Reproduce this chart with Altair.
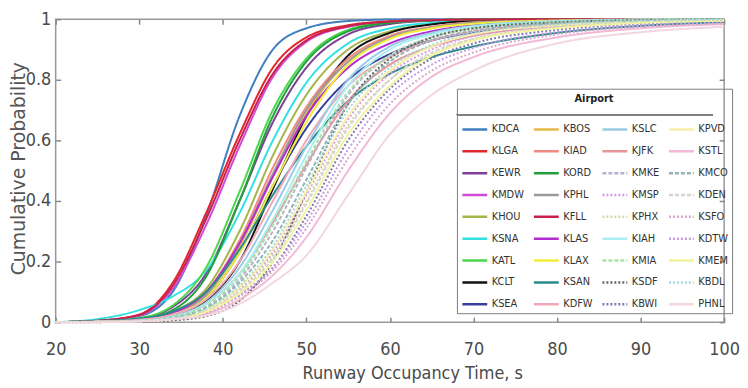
import altair as alt
import pandas as pd

# Runway occupancy time grid (s)
ROT = [20, 25, 30, 34, 38, 42, 46, 50, 55, 60, 65, 70, 80, 90, 100]

# Cumulative probability, one list per airport
KDCA = [0, 0.004, 0.02, 0.1, 0.35, 0.68, 0.9, 0.97, 0.994, 0.999, 1, 1, 1, 1, 1]
KLGA = [0, 0.005, 0.025, 0.13, 0.36, 0.62, 0.84, 0.94, 0.98, 0.993, 0.997, 0.999, 1, 1, 1]
KEWR = [0, 0.003, 0.012, 0.05, 0.16, 0.4, 0.66, 0.84, 0.95, 0.984, 0.995, 0.998, 1, 1, 1]
KMDW = [0, 0.004, 0.022, 0.11, 0.32, 0.58, 0.81, 0.925, 0.975, 0.99, 0.996, 0.999, 1, 1, 1]
KHOU = [0, 0.003, 0.01, 0.035, 0.11, 0.3, 0.55, 0.75, 0.9, 0.96, 0.984, 0.994, 0.999, 1, 1]
KSNA = [0, 0.01, 0.04, 0.085, 0.17, 0.36, 0.6, 0.79, 0.92, 0.97, 0.988, 0.995, 0.999, 1, 1]
KATL = [0, 0.003, 0.014, 0.055, 0.18, 0.43, 0.7, 0.87, 0.965, 0.99, 0.997, 0.999, 1, 1, 1]
KCLT = [0, 0.002, 0.006, 0.02, 0.07, 0.2, 0.44, 0.68, 0.88, 0.955, 0.983, 0.994, 0.999, 1, 1]
KSEA = [0, 0.002, 0.007, 0.022, 0.08, 0.23, 0.45, 0.64, 0.8, 0.885, 0.93, 0.957, 0.983, 0.994, 0.999]

KBOS = [0, 0.003, 0.009, 0.03, 0.09, 0.25, 0.48, 0.69, 0.86, 0.94, 0.972, 0.987, 0.997, 1, 1]
KIAD = [0, 0.002, 0.008, 0.03, 0.1, 0.27, 0.51, 0.71, 0.87, 0.945, 0.975, 0.99, 0.998, 1, 1]
KORD = [0, 0.002, 0.01, 0.04, 0.15, 0.4, 0.68, 0.86, 0.96, 0.988, 0.996, 0.999, 1, 1, 1]
KPHL = [0, 0.002, 0.007, 0.025, 0.09, 0.26, 0.49, 0.7, 0.86, 0.94, 0.972, 0.988, 0.997, 1, 1]
KFLL = [0, 0.005, 0.024, 0.12, 0.34, 0.6, 0.82, 0.93, 0.977, 0.992, 0.997, 0.999, 1, 1, 1]
KLAS = [0, 0.002, 0.008, 0.03, 0.1, 0.26, 0.48, 0.68, 0.84, 0.92, 0.96, 0.98, 0.995, 0.999, 1]
KLAX = [0, 0.002, 0.007, 0.025, 0.08, 0.23, 0.45, 0.66, 0.85, 0.935, 0.97, 0.985, 0.996, 0.999, 1]
KSAN = [0, 0.004, 0.012, 0.035, 0.1, 0.24, 0.42, 0.58, 0.73, 0.82, 0.875, 0.91, 0.955, 0.978, 0.99]
KDFW = [0, 0.002, 0.008, 0.025, 0.075, 0.2, 0.4, 0.6, 0.78, 0.875, 0.93, 0.96, 0.985, 0.995, 0.999]

KSLC = [0, 0.001, 0.005, 0.02, 0.065, 0.18, 0.37, 0.58, 0.8, 0.91, 0.955, 0.978, 0.994, 0.999, 1]
KJFK = [0, 0.001, 0.005, 0.018, 0.06, 0.16, 0.33, 0.52, 0.73, 0.85, 0.91, 0.945, 0.977, 0.99, 0.997]
KMKE = [0, 0.001, 0.004, 0.015, 0.05, 0.14, 0.3, 0.51, 0.75, 0.88, 0.94, 0.97, 0.99, 0.997, 1]
KMSP = [0, 0.001, 0.003, 0.012, 0.04, 0.11, 0.23, 0.42, 0.67, 0.82, 0.9, 0.945, 0.978, 0.992, 0.997]
KPHX = [0, 0.001, 0.003, 0.011, 0.038, 0.105, 0.22, 0.4, 0.65, 0.8, 0.885, 0.935, 0.972, 0.99, 0.996]
KIAH = [0, 0.001, 0.005, 0.018, 0.06, 0.16, 0.34, 0.55, 0.78, 0.9, 0.95, 0.975, 0.992, 0.998, 1]
KMIA = [0, 0.001, 0.004, 0.016, 0.055, 0.15, 0.32, 0.53, 0.76, 0.88, 0.94, 0.97, 0.99, 0.997, 1]
KSDF = [0, 0, 0.002, 0.006, 0.02, 0.07, 0.2, 0.43, 0.72, 0.87, 0.94, 0.97, 0.99, 0.997, 1]
KBWI = [0, 0.001, 0.003, 0.01, 0.033, 0.09, 0.18, 0.35, 0.6, 0.77, 0.87, 0.92, 0.965, 0.985, 0.994]

KPVD = [0, 0.001, 0.004, 0.013, 0.042, 0.115, 0.24, 0.43, 0.68, 0.83, 0.91, 0.95, 0.98, 0.993, 0.998]
KSTL = [0, 0.001, 0.003, 0.01, 0.027, 0.075, 0.155, 0.28, 0.5, 0.69, 0.81, 0.875, 0.94, 0.97, 0.984]
KMCO = [0, 0.001, 0.004, 0.014, 0.047, 0.13, 0.27, 0.47, 0.72, 0.86, 0.93, 0.962, 0.987, 0.996, 1]
KDEN = [0, 0.001, 0.003, 0.011, 0.036, 0.1, 0.21, 0.39, 0.64, 0.8, 0.89, 0.935, 0.972, 0.989, 0.996]
KSFO = [0, 0.001, 0.003, 0.01, 0.03, 0.085, 0.17, 0.31, 0.54, 0.72, 0.83, 0.89, 0.95, 0.975, 0.986]
KDTW = [0, 0.001, 0.003, 0.01, 0.032, 0.09, 0.18, 0.33, 0.57, 0.75, 0.85, 0.905, 0.958, 0.98, 0.99]
KMEM = [0, 0.001, 0.003, 0.01, 0.034, 0.095, 0.2, 0.37, 0.62, 0.78, 0.88, 0.93, 0.97, 0.988, 0.995]
KBDL = [0, 0.001, 0.004, 0.013, 0.044, 0.12, 0.25, 0.45, 0.7, 0.84, 0.915, 0.955, 0.982, 0.994, 0.998]
PHNL = [0, 0, 0.003, 0.01, 0.022, 0.06, 0.13, 0.22, 0.42, 0.62, 0.75, 0.83, 0.92, 0.957, 0.975]

# Legend columns (as shown in the reference legend)
COL1 = ["KDCA", "KLGA", "KEWR", "KMDW", "KHOU", "KSNA", "KATL", "KCLT", "KSEA"]
COL2 = ["KBOS", "KIAD", "KORD", "KPHL", "KFLL", "KLAS", "KLAX", "KSAN", "KDFW"]
COL3 = ["KSLC", "KJFK", "KMKE", "KMSP", "KPHX", "KIAH", "KMIA", "KSDF", "KBWI"]
COL4 = ["KPVD", "KSTL", "KMCO", "KDEN", "KSFO", "KDTW", "KMEM", "KBDL", "PHNL"]

COLORS = {
    "KDCA": "#3f7fbf", "KLGA": "#e3262b", "KEWR": "#7e3f98", "KMDW": "#d24bd8",
    "KHOU": "#a5b54a", "KSNA": "#33e0e0", "KATL": "#4cd64c", "KCLT": "#111111",
    "KSEA": "#3a3f9e",
    "KBOS": "#e5b84a", "KIAD": "#f08a80", "KORD": "#1fa03a", "KPHL": "#9a9a9a",
    "KFLL": "#c8204d", "KLAS": "#b52bd0", "KLAX": "#f2ec3a", "KSAN": "#2a8a8a",
    "KDFW": "#f3a8b8",
    "KSLC": "#9ccbe5", "KJFK": "#e8959a", "KMKE": "#b5b3cc", "KMSP": "#d99ae6",
    "KPHX": "#d6d6a8", "KIAH": "#a8eef2", "KMIA": "#a8e2a8", "KSDF": "#666666",
    "KBWI": "#7c7ab0",
    "KPVD": "#f7f0a8", "KSTL": "#f2b8d6", "KMCO": "#93b4b4", "KDEN": "#d4d4d4",
    "KSFO": "#d8a8c8", "KDTW": "#c89ae8", "KMEM": "#f2f2a0", "KBDL": "#a8d8d8",
    "PHNL": "#f2d6e2",
}
SOLID = [1, 0]
DOT = [2, 2]
DASH = [4, 2]
DASHES = {a: SOLID for a in COL1 + COL2}
DASHES.update({
    "KSLC": SOLID, "KJFK": SOLID, "KMKE": DASH, "KMSP": DOT, "KPHX": DOT,
    "KIAH": SOLID, "KMIA": DASH, "KSDF": DOT, "KBWI": DOT,
    "KPVD": SOLID, "KSTL": SOLID, "KMCO": DASH, "KDEN": DASH, "KSFO": DOT,
    "KDTW": DOT, "KMEM": SOLID, "KBDL": DOT, "PHNL": SOLID,
})

SERIES = {
    "KDCA": KDCA, "KLGA": KLGA, "KEWR": KEWR, "KMDW": KMDW, "KHOU": KHOU,
    "KSNA": KSNA, "KATL": KATL, "KCLT": KCLT, "KSEA": KSEA,
    "KBOS": KBOS, "KIAD": KIAD, "KORD": KORD, "KPHL": KPHL, "KFLL": KFLL,
    "KLAS": KLAS, "KLAX": KLAX, "KSAN": KSAN, "KDFW": KDFW,
    "KSLC": KSLC, "KJFK": KJFK, "KMKE": KMKE, "KMSP": KMSP, "KPHX": KPHX,
    "KIAH": KIAH, "KMIA": KMIA, "KSDF": KSDF, "KBWI": KBWI,
    "KPVD": KPVD, "KSTL": KSTL, "KMCO": KMCO, "KDEN": KDEN, "KSFO": KSFO,
    "KDTW": KDTW, "KMEM": KMEM, "KBDL": KBDL, "PHNL": PHNL,
}

# the legend fills column by column
DOMAIN = COL1 + COL2 + COL3 + COL4

rows = []
for name, vals in SERIES.items():
    for x, y in zip(ROT, vals):
        rows.append({"airport": name, "rot": x, "cdf": y})
df = pd.DataFrame(rows)

NARROW = "Liberation Sans Narrow, DejaVu Sans Condensed, Arial Narrow, sans-serif"
XTICKS = [20, 30, 40, 50, 60, 70, 80, 90, 100]
YTICKS = [0, 0.2, 0.4, 0.6, 0.8, 1]

xscale = alt.Scale(domain=[20, 100], nice=False, zero=False)
yscale = alt.Scale(domain=[0, 1], nice=False)

# legend box (plot-area pixels)
LEG_X, LEG_Y, LEG_X2, LEG_Y2 = 404, 70, 661, 293

legend = alt.Legend(
    orient="none", legendX=LEG_X, legendY=LEG_Y, columns=4, direction="vertical",
    title="Airport", symbolLimit=50,
    symbolType="stroke", symbolSize=625, symbolStrokeWidth=2.5,
    labelFont=NARROW, labelFontSize=11, labelColor="#333333", labelOffset=3,
    titleFont=NARROW, titleFontSize=11, titleFontWeight="bold", titleColor="#222222",
    titleAnchor="middle", titleAlign="center", titlePadding=12,
    strokeColor="#808080", padding=4,
    rowPadding=3, columnPadding=4,
)

lines = alt.Chart(df).mark_line(strokeWidth=2, interpolate="monotone").encode(
    x=alt.X("rot:Q", scale=xscale, axis=alt.Axis(
        values=XTICKS, title="Runway Occupancy Time, s", orient="bottom",
        offset=-5, tickSize=5, tickColor="#888888", tickWidth=1.5, domain=False,
        grid=False, labelFlush=False, labelFont=NARROW, labelFontSize=18,
        labelColor="#4a4a4a", labelPadding=19, titleFont=NARROW, titleFontSize=18,
        titleFontWeight="normal", titleColor="#4a4a4a", titleX=359, titleY=57,
        titleBaseline="middle", titleAlign="center")),
    y=alt.Y("cdf:Q", scale=yscale, axis=alt.Axis(
        values=YTICKS, title="Cumulative Probability", orient="left",
        labelExpr="format(datum.value, '~g')",
        offset=-5, tickSize=5, tickColor="#888888", tickWidth=1.5, domain=False,
        grid=False, labelFlush=False, labelFont=NARROW, labelFontSize=18,
        labelColor="#4a4a4a", labelPadding=5, titleFont="DejaVu Sans", titleFontSize=19,
        titleFontWeight="normal", titleColor="#555555", titleX=-42, titleY=150,
        titleBaseline="middle", titleAlign="center")),
    color=alt.Color("airport:N", scale=alt.Scale(domain=DOMAIN, range=[COLORS[a] for a in DOMAIN]),
                    legend=legend, title="Airport"),
    strokeDash=alt.StrokeDash("airport:N", scale=alt.Scale(domain=DOMAIN, range=[DASHES[a] for a in DOMAIN]),
                              legend=legend, title="Airport"),
)

frame_axes = alt.Chart(df).mark_point(opacity=0).encode(
    x=alt.X("rot:Q", scale=xscale, axis=alt.Axis(
        values=XTICKS, orient="top", offset=-5, tickSize=5, tickColor="#888888",
        tickWidth=1.5, labels=False, domain=False, grid=False, title=None)),
    y=alt.Y("cdf:Q", scale=yscale, axis=alt.Axis(
        values=YTICKS, orient="right", offset=-5, tickSize=5, tickColor="#888888",
        tickWidth=1.5, labels=False, domain=False, grid=False, title=None)),
)

# white backing of the legend box and the line under its title
legend_bg = alt.Chart(df).mark_rect(color="white").encode(
    x=alt.value(LEG_X), x2=alt.value(LEG_X2), y=alt.value(LEG_Y), y2=alt.value(LEG_Y2)
)
separator = alt.Chart(df).mark_rule(color="#808080", strokeWidth=1).encode(
    x=alt.value(LEG_X), x2=alt.value(LEG_X2), y=alt.value(LEG_Y + 26)
)

chart = alt.layer(lines, frame_axes, legend_bg, separator).resolve_axis(
    x="independent", y="independent"
).properties(
    width=673, height=305,
    autosize=alt.AutoSizeParams(type="none"),
    padding={"left": 48, "top": 10, "right": 16, "bottom": 62},
).configure_view(stroke="#999999", strokeWidth=1.5)

chart.save("out.html", embed_options={"renderer": "svg", "actions": False})
